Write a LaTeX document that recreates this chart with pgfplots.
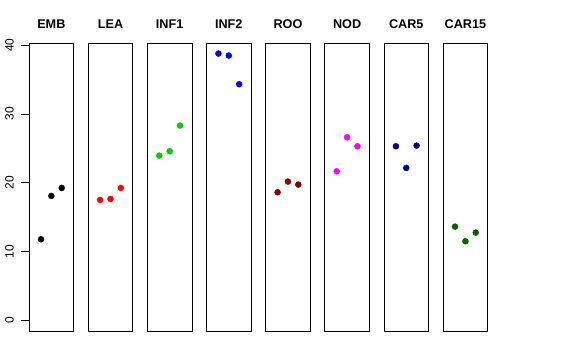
\documentclass[border=0pt]{standalone}
\usepackage{pgfplots}
\pgfplotsset{compat=1.18}
\usepackage{fontspec}
\setmainfont{Liberation Sans}
\definecolor{rgreen}{RGB}{0,205,0}
\definecolor{rdarkred}{RGB}{139,0,0}
\definecolor{rdarkblue}{RGB}{0,0,139}
\definecolor{rdarkgreen}{RGB}{0,100,0}
\definecolor{rmagenta}{RGB}{255,0,255}
\pgfplotsset{
  panel/.style={
    scale only axis, width=44.7bp, height=287.7bp,
    xmin=-0.16, xmax=4.16, ymin=-1.5, ymax=40.25,
    xtick=\empty, ytick=\empty,
    axis line style={line width=0.75bp},
    title style={at={(0.5,1)}, anchor=base, yshift=9.3bp, inner sep=0pt,
      font=\fontsize{12.7}{15}\selectfont\bfseries},
    anchor=south west,
  },
  pts/.style={only marks, mark=*, mark size=3bp, color=#1, mark options={draw=#1, fill=#1}},
}
\begin{document}
\begin{tikzpicture}
\path[use as bounding box] (0,0) rectangle (576bp,360bp);
\begin{axis}[panel, at={(29bp,29bp)}, title={EMB},
  ytick={0,10,20,30,40}, ytick pos=left, tick align=outside,
  major tick length=8bp, tick style={line width=0.75bp, black},
  /pgf/number format/assume math mode=true,
  yticklabel style={rotate=90, anchor=south, inner sep=0pt, inner ysep=7bp,
    font=\fontsize{12}{14}\selectfont}]
\addplot[pts=black] coordinates {(1,11.81) (2,18.10) (3,19.26)};
\end{axis}
\begin{axis}[panel, at={(88.15bp,29bp)}, title={LEA}]
\addplot[pts=red] coordinates {(1,17.52) (2,17.66) (3,19.26)};
\end{axis}
\begin{axis}[panel, at={(147.3bp,29bp)}, title={INF1}]
\addplot[pts=rgreen] coordinates {(1,23.95) (2,24.58) (3,28.31)};
\end{axis}
\begin{axis}[panel, at={(206.45bp,29bp)}, title={INF2}]
\addplot[pts=blue] coordinates {(1,38.76) (2,38.47) (3,34.31)};
\end{axis}
\begin{axis}[panel, at={(265.6bp,29bp)}, title={ROO}]
\addplot[pts=rdarkred] coordinates {(1,18.63) (2,20.18) (3,19.75)};
\end{axis}
\begin{axis}[panel, at={(324.75bp,29bp)}, title={NOD}]
\addplot[pts=rmagenta] coordinates {(1,21.68) (2,26.61) (3,25.31)};
\end{axis}
\begin{axis}[panel, at={(383.9bp,29bp)}, title={CAR5}]
\addplot[pts=rdarkblue] coordinates {(1,25.31) (2,22.16) (3,25.40)};
\end{axis}
\begin{axis}[panel, at={(443.05bp,29bp)}, title={CAR15}]
\addplot[pts=rdarkgreen] coordinates {(1,13.65) (2,11.52) (3,12.78)};
\end{axis}
\end{tikzpicture}
\end{document}
